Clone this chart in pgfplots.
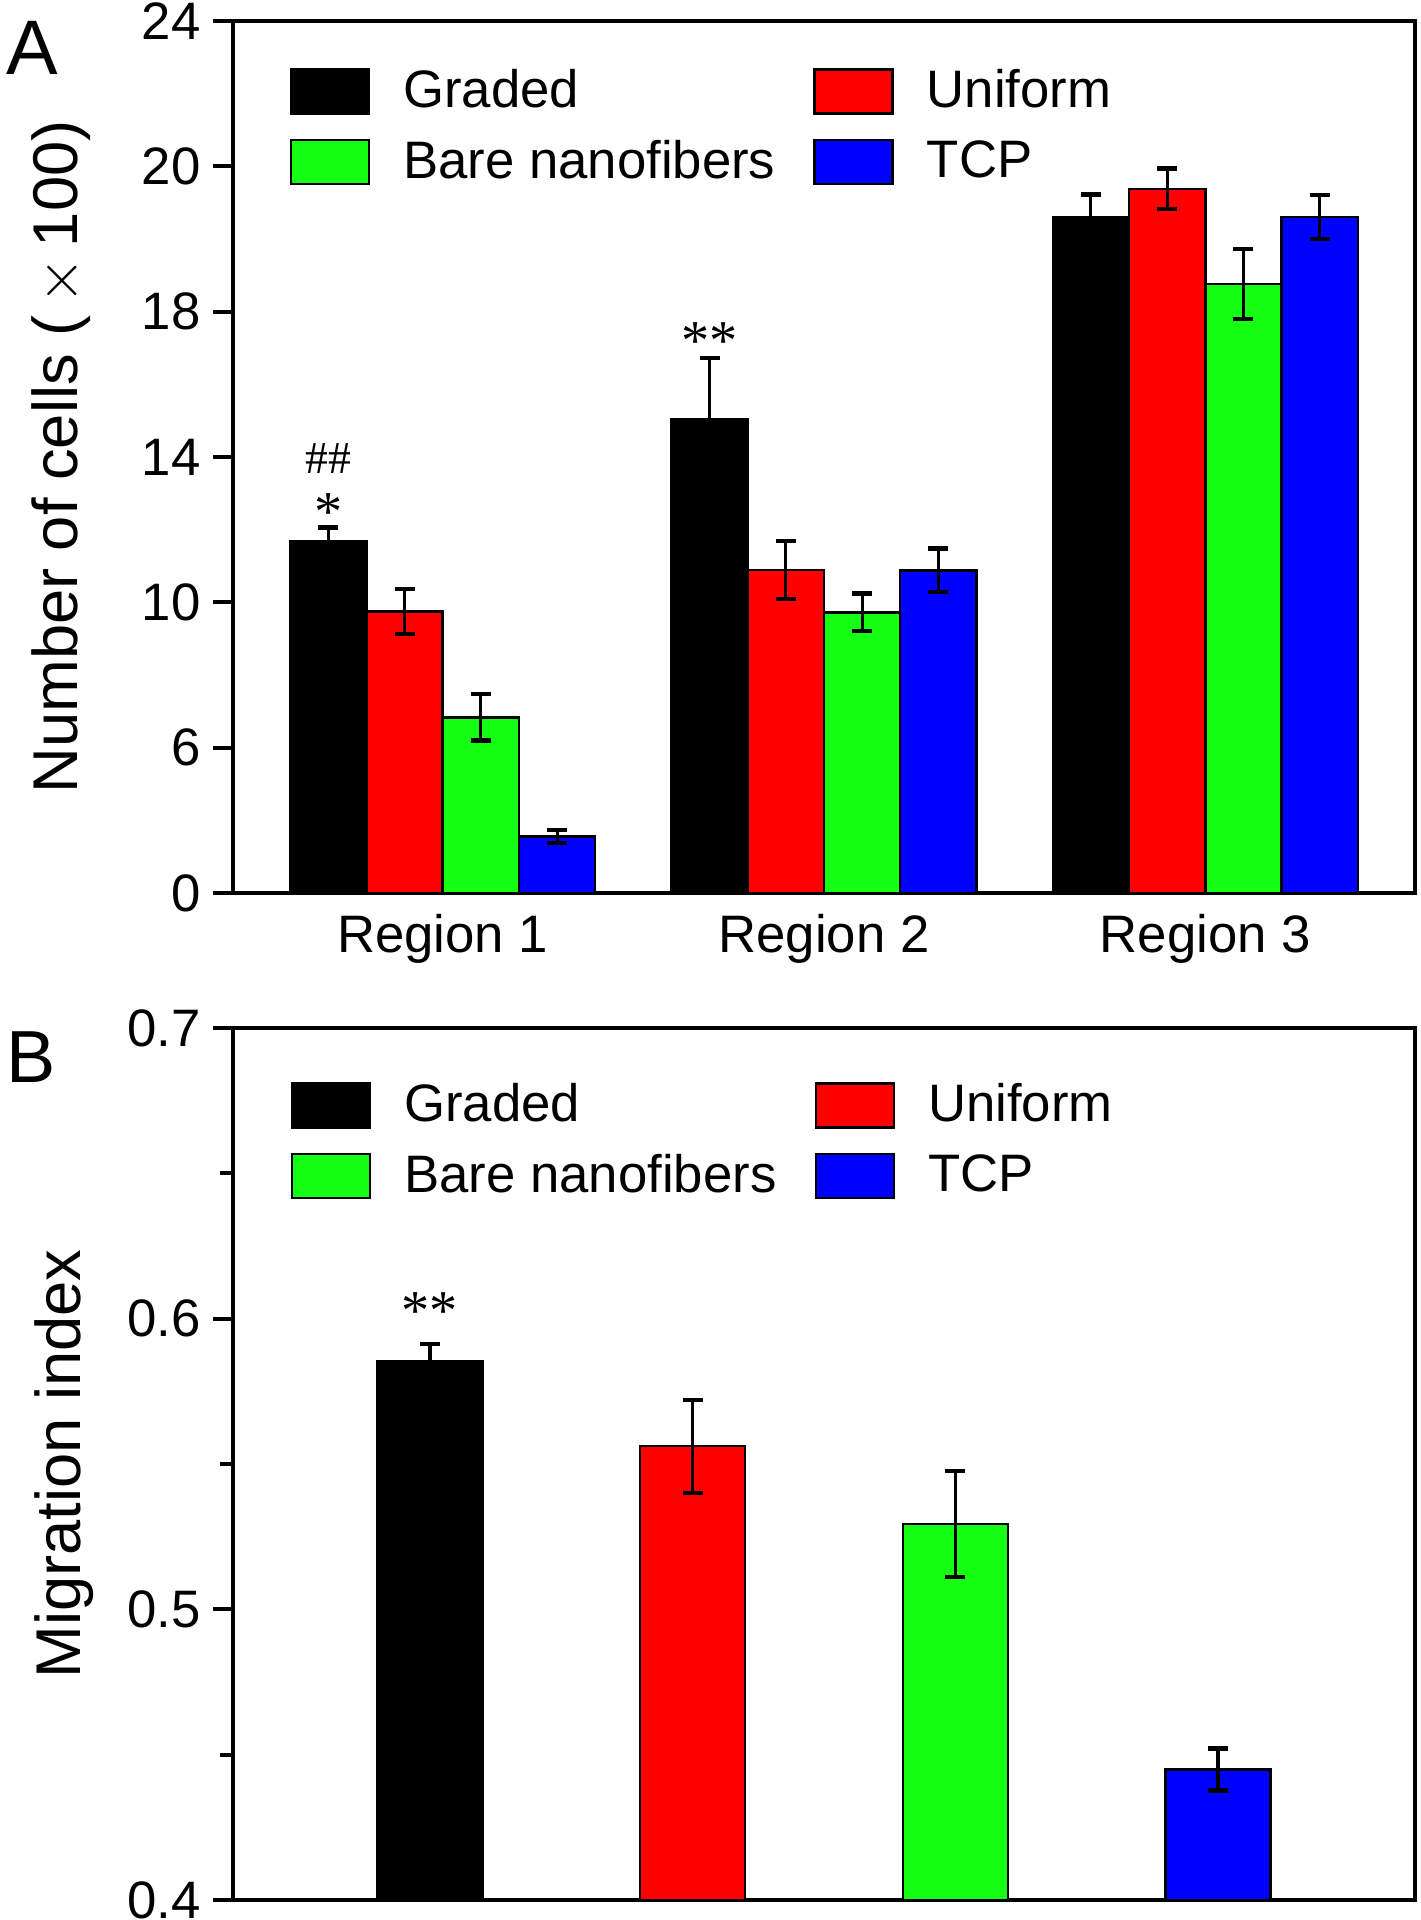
\documentclass[border=0pt]{standalone}
\usepackage{fontspec}
\setmainfont{Liberation Sans}
\newfontfamily\starfont{Liberation Serif}
\usepackage{pgfplots}
\pgfplotsset{compat=1.18}
\definecolor{bargreen}{HTML}{14FF14}
\definecolor{barred}{HTML}{FF0000}
\definecolor{barblue}{HTML}{0000FF}
\pgfplotsset{
  panel/.style={
    scale only axis, width=118.2mm, height=87.2mm,
    axis line style={line width=1.3pt},
    tick align=outside, ytick pos=left,
    major tick length=2mm, minor tick length=1.3mm,
    every tick/.style={black, line width=1.1pt},
    tick label style={font=\fontsize{15}{18}\selectfont},
    /pgf/number format/assume math mode=true,
    every axis y label/.style={rotate=90, anchor=center, font=\fontsize{18}{22}\selectfont},
    legend columns=2, legend cell align=left,
    legend style={draw=none, fill=none, inner sep=0pt, outer sep=0pt,
      font=\fontsize{15}{18}\selectfont, row sep=2.4mm, nodes={inner sep=0pt},
      /tikz/every odd column/.append style={column sep=3.3mm},
      /tikz/every even column/.append style={column sep=3.8mm}},
  },
  bar/.style={fill=#1, draw=black, line width=0.7pt,
    legend image code/.code={\draw[##1, line width=0.7pt] (0mm,-2.2mm) rectangle (7.8mm,2.2mm);},
    error bars/y dir=both, error bars/y explicit,
    error bars/error bar style={line width=0.9pt, black},
    error bars/error mark options={rotate=90, line width=1.2pt, mark size=1mm, black}},
}
\begin{document}
\begin{tikzpicture}
\path[use as bounding box] (0,0) rectangle (142.1mm,192mm);

% panel A: the y scale is broken, values are in tick positions
\begin{axis}[panel, at={(23.3mm,102.7mm)}, anchor=south west,
  xmin=0.45, xmax=3.55, ymin=0, ymax=6,
  xtick={1,2,3}, xticklabels={Region 1,Region 2,Region 3}, xtick style={draw=none},
  xticklabel style={yshift=1.1mm},
  ytick={0,1,2,3,4,5,6}, yticklabels={0,6,10,14,18,20,24},
  every axis y label/.append style={at={(axis description cs:-0.1455,0.5)}},
  ylabel={Number of cells (\,$\times$\,100)},
  legend style={at={(0.048,0.946)}, anchor=north west},
  ybar=0pt, bar width=0.2]
\addplot[bar=black, bar shift=-0.3] coordinates {
  (1,2.418) +- (0,0.097) (2,3.26) +- (0,0.42) (3,4.651) +- (0,0.155)};
\addplot[bar=barred, bar shift=-0.1] coordinates {
  (1,1.938) +- (0,0.155) (2,2.222) +- (0,0.2) (3,4.845) +- (0,0.14)};
\addplot[bar=bargreen, bar shift=0.1] coordinates {
  (1,1.209) +- (0,0.16) (2,1.93) +- (0,0.13) (3,4.19) +- (0,0.24)};
\addplot[bar=barblue, bar shift=0.3] coordinates {
  (1,0.388) +- (0,0.045) (2,2.22) +- (0,0.15) (3,4.651) +- (0,0.15)};
\legend{Graded,Uniform,Bare nanofibers,TCP}
\node[font=\starfont\fontsize{16}{16}\selectfont] at (axis cs:0.7,2.62) {*};
\node[font=\starfont\fontsize{13}{13}\selectfont] at (axis cs:0.7,2.99) {\#\#};
\node[font=\starfont\fontsize{16}{16}\selectfont] at (axis cs:1.7,3.80) {**};
\end{axis}

% panel B
\begin{axis}[panel, at={(23.3mm,2.0mm)}, anchor=south west,
  xmin=0.25, xmax=4.75, ymin=0.4, ymax=0.7,
  xtick=\empty, ytick={0.4,0.5,0.6,0.7}, minor ytick={0.45,0.55,0.65},
  yticklabel style={/pgf/number format/.cd, fixed, precision=1, fixed zerofill},
  every axis y label/.append style={at={(axis description cs:-0.143,0.5)}},
  ylabel={Migration index},
  legend style={at={(0.049,0.938)}, anchor=north west},
  ybar, bar width=0.4]
\addplot[bar=black, bar shift=0] coordinates {(1,0.5855) +- (0,0.0057)};
\addplot[bar=barred, bar shift=0] coordinates {(2,0.5561) +- (0,0.0160)};
\addplot[bar=bargreen, bar shift=0] coordinates {(3,0.5294) +- (0,0.0183)};
\addplot[bar=barblue, bar shift=0] coordinates {(4,0.4449) +- (0,0.0072)};
\legend{Graded,Uniform,Bare nanofibers,TCP}
\node[font=\starfont\fontsize{16}{16}\selectfont] at (axis cs:1,0.6025) {**};
\end{axis}

\node[font=\fontsize{22}{22}\selectfont] at (3.2mm,187.2mm) {A};
\node[font=\fontsize{21}{21}\selectfont] at (3.1mm,86.3mm) {B};
\end{tikzpicture}
\end{document}
